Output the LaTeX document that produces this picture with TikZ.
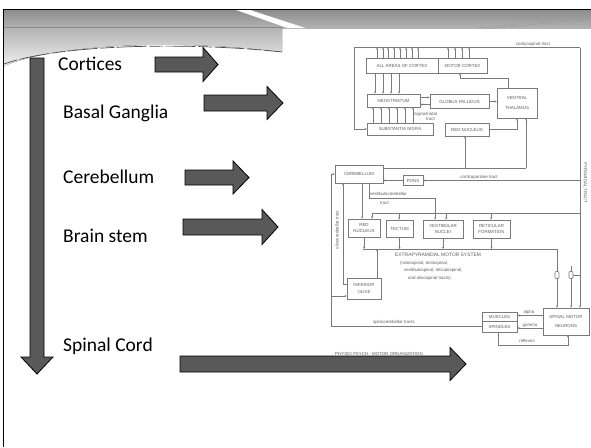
\documentclass[tikz,border=0pt]{standalone}
\usepackage{fontspec}
\setmainfont{Carlito}
\newfontfamily\scanfont{Liberation Sans}
\usetikzlibrary{arrows.meta}
\definecolor{arrfill}{HTML}{595959}
\definecolor{lc}{HTML}{7A7A7A}
\definecolor{tc}{HTML}{5E5E5E}
\tikzset{
  barr/.style={fill=arrfill, draw=black, line width=0.8pt, line join=miter},
  lbl/.style={anchor=base west, font=\fontsize{19.5}{22}\selectfont, inner sep=0},
  sbox/.style={draw=lc, line width=0.6pt, inner sep=0, align=center, text=tc, font=\scanfont\fontsize{4.4}{5.4}\selectfont},
  sline/.style={draw=lc, line width=0.6pt},
  sarr/.style={sline, -{Stealth[length=2.2pt,width=2pt]}},
  stxt/.style={text=tc, font=\scanfont\fontsize{4.4}{5.4}\selectfont, inner sep=0},
  btxt/.style={text=tc, font=\scanfont\fontsize{4.9}{5.8}\selectfont, inner sep=0},
}
\newcommand{\rblock}[6]{\draw[barr] (#1,{#4-#5}) -- (#2,{#4-#5}) -- (#2,{#4-#6}) -- (#3,#4) -- (#2,{#4+#6}) -- (#2,{#4+#5}) -- (#1,{#4+#5}) -- cycle;}
\begin{document}
\begin{tikzpicture}[x=1pt,y=-1pt]
\useasboundingbox (0,0) rectangle (591,447);
\fill[white] (0,0) rectangle (591,447);
% ---- header ----
\fill[top color=black!45, bottom color=black!30] (4,10) rectangle (591,28);
\fill[top color=black!30, bottom color=black!6] (4,27.5) -- (282,27.5) -- (282,52) .. controls (190,40) and (60,42) .. (4,66) -- cycle;
\fill[white] (236,10) -- (250,10) -- (306,28.2) -- (288,28.2) -- cycle;
\draw[black!70, line width=0.7pt, dash pattern=on 14pt off 2pt on 30pt off 3pt] (4,64) .. controls (60,44) and (190,42) .. (282,52);
\draw[black!40, line width=0.4pt] (478,28) -- (591,16);
\draw[black!40, line width=0.4pt] (486,29) -- (591,19);
\draw[black, line width=1pt] (3,9) -- (591,9);
\draw[black, line width=1.2pt] (3.5,9) -- (3.5,447);
% ---- left down arrow ----
\draw[barr] (30,58) -- (44,58) -- (44,357) -- (53,357) -- (37,374) -- (21,357) -- (30,357) -- cycle;
% ---- labels ----
\node[lbl] (lcort) at (58,70) {Cortices};
\node[lbl] (lbg) at (63,118) {Basal Ganglia};
\node[lbl] (lcer) at (63,183) {Cerebellum};
\node[lbl] (lbs) at (63,242) {Brain stem};
\node[lbl] (lsc) at (63,351) {Spinal Cord};
% ---- block arrows ----
\rblock{155}{203}{218}{64.5}{7.5}{17}
\rblock{204}{267}{283}{103}{8}{16.5}
\rblock{185}{233}{249}{177.5}{7.5}{16.5}
\rblock{183}{262}{278}{227}{8}{17.5}
\rblock{180}{450}{466}{364}{8}{16.5}
% ---- scanned diagram: boxes ----
\node[sbox, minimum width=72, minimum height=15] (aac) at (402,65.5) {ALL AREAS OF CORTEX};
\node[sbox, minimum width=49, minimum height=15] (mc) at (462.5,65.5) {MOTOR CORTEX};
\node[sbox, minimum width=53, minimum height=13] (neo) at (393.5,100.5) {NEOSTRIATUM};
\node[sbox, minimum width=59, minimum height=14] (gp) at (459.5,101.5) {GLOBUS PALLIDUS};
\node[sbox, minimum width=40, minimum height=30] (vt) at (517,103) {VENTRAL\\[5pt]THALAMUS};
\node[sbox, minimum width=66, minimum height=12] (sn) at (400,129) {SUBSTANTIA NIGRA};
\node[sbox, minimum width=44, minimum height=13] (rn1) at (467,129.5) {RED NUCLEUS};
\node[sbox, minimum width=48, minimum height=18] (cer) at (359,174) {CEREBELLUM};
\node[sbox, minimum width=20, minimum height=10] (pons) at (413,180.5) {PONS};
\node[sbox, minimum width=32, minimum height=18] (rn2) at (364,228) {RED\\NUCLEUS};
\node[sbox, minimum width=27, minimum height=17] (tec) at (399.5,228.5) {TECTUM};
\node[sbox, minimum width=40, minimum height=18] (vn) at (443,229) {VESTIBULAR\\NUCLEI};
\node[sbox, minimum width=37, minimum height=18] (rf) at (491.5,229) {RETICULAR\\FORMATION};
\node[sbox, minimum width=34, minimum height=21] (io) at (364,288.5) {INFERIOR\\[2pt]OLIVE};
\node[sbox, minimum width=46, minimum height=27] (smn) at (566,321.5) {SPINAL MOTOR\\[3pt]NEURONS};
\node[sbox, minimum width=35, minimum height=9] (mus) at (499.5,316.5) {MUSCLES};
\node[sbox, minimum width=35, minimum height=11] (spi) at (499.5,326.5) {SPINDLES};
\coordinate (ctl) at (354,47.5);
\coordinate (ctr) at (580,47.5);
% ---- scanned diagram: connectors ----
\draw[sline] (ctl) -- (ctr);
\draw[sarr] (ctl) -- (ctl |- sn.west) -- (sn.west);
\draw[sarr] (ctr) -- (smn.north -| ctr);
\foreach \x in {377,383,388,394,400,406,412,418} \draw[sarr] (aac.north -| \x,0) -- (ctl -| \x,0);
\foreach \x in {448,455,462,469} \draw[sarr] (mc.north -| \x,0) -- (ctl -| \x,0);
\foreach \x in {375,383,391,399} \draw[sarr] (aac.south -| \x,0) -- (neo.north -| \x,0);
\foreach \x in {373,381,389,397,405,413} \draw[sarr] (sn.north -| \x,0) -- (neo.south -| \x,0);
\draw[sarr] (neo.east |- 0,97.5) -- (gp.west |- 0,97.5);
\draw[sarr] (gp.west |- 0,104.5) -- (neo.east |- 0,104.5);
\draw[sarr] (gp.east) -- (vt.west |- gp.east);
\draw[sarr] (vt.north -| 508,0) -- (508,78) -- (460,78) -- (mc.south -| 460,0);
\draw[sarr] (rn1.east) -- (517,129.5) -- (vt.south -| 517,0);
\draw[sline] (cer.east |- 0,168) -- (526,168);
\draw[sarr] (526,168) -- (vt.south -| 526,0);
\draw[sarr] (465,168) -- (rn1.south -| 465,0);
\draw[sarr] (pons.west) -- (cer.east |- pons.west);
\draw[sarr] (ctr |- pons.east) -- (pons.east);
\draw[sarr] (cer.south -| 369,0) -- (369,198) -- (435,198) -- (vn.north -| 435,0);
\draw[sarr] (cer.south -| 362,0) -- (rn2.north -| 362,0);
\draw[sline] (372,213) -- (ctr |- 0,213);
\draw[sarr] (372,213) -- (rn2.north -| 372,0);
\draw[sarr] (399,213) -- (tec.north -| 399,0);
\draw[sarr] (446,213) -- (vn.north -| 446,0);
\draw[sarr] (491,213) -- (rf.north -| 491,0);
\draw[sline] (363,249) -- (557,249);
\draw[sarr] (rn2.south) -- (rn2.south |- 0,249);
\draw[sarr] (tec.south) -- (tec.south |- 0,249);
\draw[sarr] (vn.south) -- (vn.south |- 0,249);
\draw[sarr] (rf.south) -- (rf.south |- 0,249);
\draw[sarr] (io.north -| 377,0) -- (377,249);
\draw[sarr] (557,249) -- (smn.north -| 557,0);
\node[draw=lc, fill=white, line width=0.6pt, minimum width=4, minimum height=7, inner sep=0, rounded corners=1pt] (g1) at (557,275) {};
\node[draw=lc, fill=white, line width=0.6pt, minimum width=4, minimum height=7, inner sep=0, rounded corners=1pt] (g2) at (571,275) {};
\draw[sline] (g2.east) -- (ctr |- g2.east);
\draw[sarr] (g2.south) -- (smn.north -| g2.south);
\draw[sline] (g2.north) -- (571,266);
\draw[sarr] (io.west |- 0,284) -- (343,284) -- (cer.south -| 343,0);
\draw[sarr] (spi.west) -- (spi.west -| 331,0) -- (cer.west -| 331,0) -- (cer.west);
\draw[sarr] (331,296) -- (io.west |- 0,296);
\draw[sarr] (smn.west |- 0,315.5) -- (mus.east |- 0,315.5);
\draw[sarr] (smn.west |- 0,328) -- (spi.east |- 0,328);
\draw[sarr] (spi.south -| 498,0) -- (498,345) -- (568,345) -- (smn.south -| 568,0);
% ---- scanned diagram: labels ----
\node[stxt, anchor=base] (tcs) at (533,45) {corticospinal tract};
\node[stxt, anchor=base west] (tns1) at (414,115.5) {nigrostriatal};
\node[stxt, anchor=base west] (tns2) at (426,120.5) {tract};
\node[stxt, anchor=base] (tcp) at (479,178.5) {corticopontine tract};
\node[stxt, anchor=base west] (tvc1) at (370,195) {vestibulocerebellar};
\node[stxt, anchor=base west] (tvc2) at (380,204.5) {tract};
\node[btxt, anchor=base west] (te1) at (395,256) {EXTRAPYRAMIDAL MOTOR SYSTEM};
\node[stxt, anchor=base west] (te2) at (400,264) {(rubrospinal, tectospinal,};
\node[stxt, anchor=base west] (te3) at (404,271.5) {vestibulospinal, reticulospinal,};
\node[stxt, anchor=base west] (te4) at (408,279) {and olivospinal tracts)};
\node[stxt, rotate=90] (toc) at (337,230) {olivocerebellar tract};
\node[stxt, rotate=-90] (tpy) at (585.5,183) {PYRAMIDAL TRACT};
\node[stxt, anchor=base] (tsc) at (394,323.5) {spinocerebellar tracts};
\node[stxt, anchor=base] (tal) at (529,313.5) {alpha};
\node[stxt, anchor=base] (tga) at (530,326) {gamma};
\node[stxt, anchor=base] (trf) at (527,342.5) {reflexes};
\node[stxt, anchor=base west] (tph) at (335,355) {PHYSIO PSYCH - MOTOR ORGANIZATION};
\end{tikzpicture}
\end{document}
